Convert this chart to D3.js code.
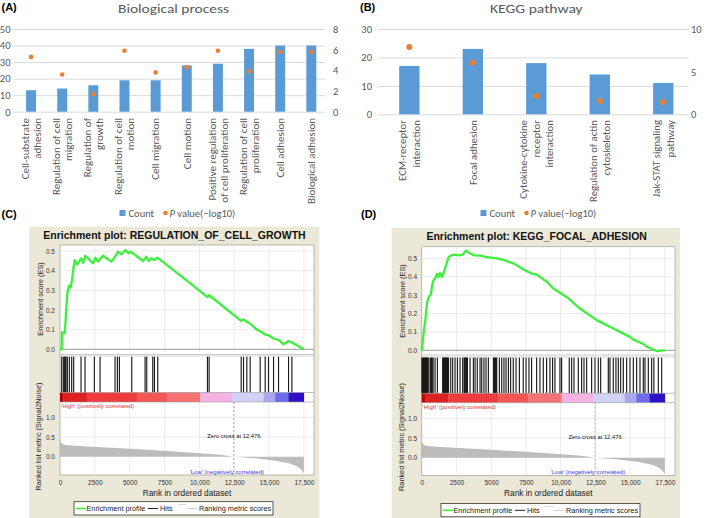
<!DOCTYPE html>
<html><head><meta charset="utf-8">
<script src="https://cdn.jsdelivr.net/npm/d3@7"></script>
<style>body{margin:0;background:#fff}svg{display:block}</style>
</head><body>
<svg id="chart" width="709" height="518"></svg>
<script>
// ---------------- DATA ----------------
// Panel A: Biological process
const bpCategories = [["Cell-substrate","adhesion"],["Regulation of cell","migration"],["Regulation of","growth"],["Regulation of cell","motion"],["Cell migration"],["Cell motion"],["Positive regulation","of cell proliferation"],["Regulation of cell","proliferation"],["Cell adhesion"],["Biological adhesion"]];
const bpCounts = [13, 14, 16, 19, 19, 28, 29, 38, 40, 40];
const bpPvalues = [5.3, 3.6, 1.7, 5.9, 3.8, 4.3, 5.9, 3.9, 5.8, 5.8];
const bpCountTicks = [0, 10, 20, 30, 40, 50];
const bpPTicks = [0, 2, 4, 6, 8];

// Panel B: KEGG pathway
const keggCategories = [["ECM-receptor","interaction"],["Focal adhesion"],["Cytokine-cytokine","receptor","interaction"],["Regulation of actin","cytoskeleton"],["Jak-STAT signaling","pathway"]];
const keggCounts = [17, 23, 18, 14, 11];
const keggPvalues = [7.9, 6.05, 2.15, 1.55, 1.45];
const keggCountTicks = [0, 10, 20, 30];
const keggPTicks = [0, 5, 10];

// GSEA shared
const rankTicks = [0, 2500, 5000, 7500, 10000, 12500, 15000, 17500];
const esTicks = [0.0, 0.1, 0.2, 0.3, 0.4, 0.5];
const metricTicks = [0.0, 0.5, 1.0];
const zeroCross = 12476;
const metricRanks = [0, 60, 240, 600, 1400, 3000, 5000, 7500, 10000, 11500, 12476, 14000, 15500, 16500, 17000, 17300, 17500];
const metricValues = [0.42, 0.36, 0.31, 0.29, 0.27, 0.24, 0.2, 0.15, 0.09, 0.05, 0.0, -0.04, -0.1, -0.17, -0.24, -0.32, -0.42];
const colorBandEdges = [0, 240, 1916, 5508, 7663, 10057, 12332, 14607, 15445, 16403, 17500];
const colorBandColors = ["#b80000", "#dc2222", "#ee3c3c", "#f45656", "#f77272", "#f5b2e2", "#d2d2f6", "#a8a8f0", "#6e6cea", "#2c12c4"];

// Panel C: REGULATION_OF_CELL_GROWTH
const esRanksC = [0,120,144,335,383,455,527,647,766,862,982,1054,1245,1533,1653,1820,2371,2538,2730,3089,3688,3879,4167,4406,4693,4933,5077,5963,6202,6370,6561,6753,6992,9195,10584,10704,13003,13170,13410,13649,14129,14368,14727,14966,15326,15685,16044,16403,16643,17500];
const esValuesC = [0,0,0.086,0.081,0.124,0.208,0.285,0.324,0.314,0.353,0.42,0.454,0.432,0.462,0.44,0.476,0.437,0.466,0.446,0.476,0.446,0.463,0.497,0.483,0.505,0.488,0.497,0.449,0.471,0.449,0.463,0.454,0.466,0.344,0.265,0.275,0.145,0.152,0.14,0.13,0.1,0.092,0.075,0.072,0.055,0.048,0.025,0.042,0.035,0.0];
const hitsC = [120,240,335,383,431,527,670,838,982,1509,1796,2466,2874,3951,4119,4262,5148,6106,6226,6657,6777,7016,10584,10704,13003,13170,13410,13649,14368,14727,14966,15326,15685,16403,16643];

// Panel D: KEGG_FOCAL_ADHESION
const esRanksD = [0,48,167,262,381,524,643,810,976,1095,1214,1310,1452,1595,1762,1929,2119,2357,2714,2952,3190,3429,3786,4262,4619,4857,5452,6048,6643,7357,7833,8310,9024,9472,10432,11391,12590,13789,14988,15228,15947,16191,16906,17386,17500];
const esValuesD = [0,0.033,0.11,0.165,0.256,0.293,0.30,0.375,0.393,0.415,0.40,0.42,0.398,0.425,0.465,0.505,0.516,0.52,0.516,0.52,0.542,0.529,0.516,0.515,0.507,0.505,0.50,0.487,0.471,0.438,0.42,0.41,0.371,0.336,0.29,0.227,0.164,0.118,0.073,0.058,0.035,0.02,-0.004,0.0,0.0];
const hitsD = [20,50,80,110,140,170,200,230,260,290,320,350,380,410,440,470,600,650,700,760,820,960,1130,1510,1545,1580,1615,1650,1685,1720,1755,1790,1825,1860,1895,1930,2090,2230,2400,2570,2760,2950,3050,3090,3130,3170,3210,3250,3290,3480,3720,3840,4000,4200,4320,4480,4630,4800,5160,5200,5240,5280,5320,5360,5400,5590,5760,5920,6070,6240,6400,6590,6790,7030,7310,7510,7720,7910,8270,8510,8750,8990,9230,9420,9590,9950,10070,10620,10790,10960,11270,11510,11680,11870,12230,12470,12710,12880,13430,13550,13790,13980,14150,14320,14510,14750,14990,15230,15470,15710,15950,16070,16310,16550,16710,17030,17270];

// ---------------- DRAWING ----------------
const svg = d3.select('#chart');
const FA = "Carlito, Lato, 'Open Sans', sans-serif";
const FG = "'Liberation Sans', Arial, sans-serif";
const GRAY = '#595959';

function panelLetter(t, x, y) {
  svg.append('text').attr('x', x).attr('y', y).attr('font-family', FG).attr('font-weight', 'bold')
    .attr('font-size', 11).attr('fill', '#000').text(t);
}

function barPanel(o) {
  const g = svg.append('g').attr('font-family', FA);
  const x = d3.scaleBand().domain(d3.range(o.cats.length)).range([o.x0, o.x1]).paddingInner(0.68).paddingOuter(0.34);
  const y = d3.scaleLinear().domain([0, o.yMax]).range([o.yB, o.yT]);
  const y2 = d3.scaleLinear().domain([0, o.y2Max]).range([o.yB, o.yT]);

  g.append('text').attr('x', o.titleX).attr('y', 13).attr('text-anchor', 'middle')
    .attr('font-size', 13).attr('textLength', o.titleW).attr('lengthAdjust', 'spacingAndGlyphs')
    .attr('fill', GRAY).text(o.title);

  const ax = g.append('g').attr('transform', `translate(${o.gx0},0)`)
    .call(d3.axisLeft(y).tickValues(o.yTicks).tickSize(-(o.gx1 - o.gx0)).tickPadding(o.lpad));
  ax.select('.domain').remove();
  ax.selectAll('line').attr('stroke', '#d9d9d9').attr('stroke-width', 1);
  ax.selectAll('text').attr('fill', GRAY).attr('font-size', 10.5).attr('font-family', FA);

  const ar = g.append('g').attr('transform', `translate(${o.gx1},0)`)
    .call(d3.axisRight(y2).tickValues(o.y2Ticks).tickSize(0).tickPadding(o.rpad));
  ar.select('.domain').remove();
  ar.selectAll('text').attr('fill', GRAY).attr('font-size', 10.5).attr('font-family', FA);

  g.selectAll('rect.bar').data(o.counts).join('rect').attr('class', 'bar')
    .attr('x', (d, i) => x(i)).attr('width', x.bandwidth())
    .attr('y', d => y(d)).attr('height', d => y(0) - y(d)).attr('fill', '#5b9bd5');

  g.selectAll('circle.pt').data(o.pvals).join('circle').attr('class', 'pt')
    .attr('cx', (d, i) => x(i) + x.bandwidth() / 2).attr('cy', d => y2(d))
    .attr('r', o.r).attr('fill', '#ed7d31');

  const lab = g.selectAll('g.lab').data(o.cats).join('g').attr('class', 'lab')
    .attr('transform', (d, i) => `translate(${x(i) + x.bandwidth() / 2},${o.labTop}) rotate(-90)`);
  lab.each(function (lines) {
    const n = lines.length;
    d3.select(this).selectAll('text').data(lines).join('text')
      .attr('x', 0).attr('y', (d, j) => (j - (n - 1) / 2) * o.lh)
      .attr('dy', '0.35em').attr('text-anchor', 'end')
      .attr('font-size', o.labFs).attr('fill', GRAY).text(d => d);
  });

  // legend
  const lg = g.append('g');
  lg.append('rect').attr('x', o.legX).attr('y', 210).attr('width', 6).attr('height', 6).attr('fill', '#5b9bd5');
  lg.append('text').attr('x', o.legX + 9).attr('y', 216.5).attr('font-size', 10.5).attr('fill', GRAY).text('Count');
  lg.append('circle').attr('cx', o.legX + 46).attr('cy', 213).attr('r', 2.3).attr('fill', '#ed7d31');
  const t = lg.append('text').attr('x', o.legX + 50).attr('y', 216.5).attr('font-size', 10.5).attr('fill', GRAY);
  t.append('tspan').attr('font-style', 'italic').text('P');
  t.append('tspan').text(' value(\u2212log10)');
}

function gseaPanel(o) {
  const g = svg.append('g').attr('font-family', FG);
  g.append('rect').attr('x', o.bx0).attr('y', o.by0).attr('width', o.bx1 - o.bx0).attr('height', 518 - o.by0).attr('fill', '#ebe8d7');
  g.append('text').attr('x', o.titleX).attr('y', o.titleY).attr('text-anchor', 'middle')
    .attr('font-weight', 'bold').attr('font-size', 10.5).attr('fill', '#111').text(o.title);

  const x = d3.scaleLinear().domain([0, 18230]).range([o.px0, o.px1]);
  const ey = d3.scaleLinear().domain([0, 0.5]).range([o.es0, o.es5]);
  const ry = d3.scaleLinear().domain([0, 1]).range([o.rk0, o.rk1]);

  g.append('rect').attr('x', o.px0).attr('y', o.esTop).attr('width', o.px1 - o.px0)
    .attr('height', o.rankBottom - o.esTop).attr('fill', '#fff').attr('stroke', '#a8a8a8').attr('stroke-width', 0.8);

  const gridRanks = rankTicks.filter(d => d > 0);
  const grid = g.append('g').attr('stroke', '#e2e2e2').attr('stroke-width', 0.7);
  grid.selectAll('line.v1').data(gridRanks).join('line').attr('class', 'v1')
    .attr('x1', d => x(d)).attr('x2', d => x(d)).attr('y1', o.esTop).attr('y2', o.esBottom);
  grid.selectAll('line.h1').data(esTicks.filter(d => d > 0)).join('line').attr('class', 'h1')
    .attr('x1', o.px0).attr('x2', o.px1).attr('y1', d => ey(d)).attr('y2', d => ey(d));
  grid.selectAll('line.v2').data(gridRanks).join('line').attr('class', 'v2')
    .attr('x1', d => x(d)).attr('x2', d => x(d)).attr('y1', o.barBottom).attr('y2', o.rankBottom);
  grid.selectAll('line.h2').data([0.5, 1.0]).join('line').attr('class', 'h2')
    .attr('x1', o.px0).attr('x2', o.px1).attr('y1', d => ry(d)).attr('y2', d => ry(d));

  // dividers
  g.append('line').attr('x1', o.px0).attr('x2', o.px1).attr('y1', ey(0)).attr('y2', ey(0)).attr('stroke', '#9a9a9a').attr('stroke-width', 1);
  g.append('line').attr('x1', o.px0).attr('x2', o.px1).attr('y1', o.esBottom + 2).attr('y2', o.esBottom + 2).attr('stroke', '#bbb').attr('stroke-width', 0.8);

  // ranked metric area
  const metric = metricRanks.map((r, i) => [r, metricValues[i]]);
  g.append('path').datum(metric).attr('fill', '#bcbcbc')
    .attr('d', d3.area().x(d => x(d[0])).y0(ry(0)).y1(d => ry(d[1])));

  // zero cross
  g.append('line').attr('x1', x(zeroCross)).attr('x2', x(zeroCross)).attr('y1', o.barBottom).attr('y2', o.rankBottom)
    .attr('stroke', '#999').attr('stroke-width', 0.8).attr('stroke-dasharray', '2,2');

  // hits
  g.selectAll('line.hit').data(o.hits).join('line').attr('class', 'hit')
    .attr('x1', d => x(d)).attr('x2', d => x(d)).attr('y1', o.hitsTop).attr('y2', o.barTop)
    .attr('stroke', '#1a1a1a').attr('stroke-width', 1.15);
  g.append('line').attr('x1', o.px0).attr('x2', o.px1).attr('y1', o.hitsTop - 0.5).attr('y2', o.hitsTop - 0.5).attr('stroke', '#bbb').attr('stroke-width', 0.6);

  // color bar
  g.selectAll('rect.cb').data(colorBandColors).join('rect').attr('class', 'cb')
    .attr('x', (d, i) => x(colorBandEdges[i])).attr('width', (d, i) => x(colorBandEdges[i + 1]) - x(colorBandEdges[i]) + 0.3)
    .attr('y', o.barTop).attr('height', o.barBottom - o.barTop).attr('fill', d => d);
  g.append('line').attr('x1', o.px0).attr('x2', o.px1).attr('y1', o.barTop).attr('y2', o.barTop).attr('stroke', '#999').attr('stroke-width', 0.6);
  g.append('line').attr('x1', o.px0).attr('x2', o.px1).attr('y1', o.barBottom).attr('y2', o.barBottom).attr('stroke', '#999').attr('stroke-width', 0.6);

  // ES curve
  const es = o.esR.map((r, i) => [r, o.esV[i]]);
  g.append('path').datum(es).attr('fill', 'none').attr('stroke', '#3cf03c').attr('stroke-width', 2.3)
    .attr('stroke-linejoin', 'round').attr('d', d3.line().x(d => x(d[0])).y(d => ey(d[1])));

  // axis labels
  const ea = g.append('g').attr('transform', `translate(${o.px0},0)`)
    .call(d3.axisLeft(ey).tickValues(esTicks).tickFormat(d3.format('.1f')).tickSize(0).tickPadding(o.tpad));
  ea.select('.domain').remove();
  ea.selectAll('text').attr('font-size', 6.5).attr('font-family', FG).attr('fill', '#333');
  const ra = g.append('g').attr('transform', `translate(${o.px0},0)`)
    .call(d3.axisLeft(ry).tickValues(metricTicks).tickFormat(d3.format('.1f')).tickSize(0).tickPadding(o.tpad));
  ra.select('.domain').remove();
  ra.selectAll('text').attr('font-size', 6.5).attr('font-family', FG).attr('fill', '#333');
  const xa = g.append('g').attr('transform', `translate(0,${o.rankBottom})`)
    .call(d3.axisBottom(x).tickValues(rankTicks).tickFormat(d => d >= 10000 ? d3.format(',')(d) : String(d)).tickSize(0).tickPadding(5.2));
  xa.select('.domain').remove();
  xa.selectAll('text').attr('font-size', 6.5).attr('font-family', FG).attr('fill', '#333');

  g.append('text').attr('x', (o.px0 + o.px1) / 2).attr('y', o.rankBottom + 20.5).attr('text-anchor', 'middle')
    .attr('font-size', 8.3).attr('fill', '#222').text('Rank in ordered dataset');
  g.append('text').attr('transform', `translate(${o.esLabX},${o.esLabY}) rotate(-90)`).attr('text-anchor', 'middle')
    .attr('font-size', 7.3).attr('fill', '#222').text('Enrichment score (ES)');
  g.append('text').attr('transform', `translate(${o.rkLabX},${o.rkLabY}) rotate(-90)`).attr('text-anchor', 'middle')
    .attr('font-size', 7.3).attr('fill', '#222').text('Ranked list metric (Signal2Noise)');

  g.append('text').attr('x', o.px0 + 1).attr('y', o.barBottom + 6.2).attr('font-size', 6).attr('fill', '#e0383c')
    .text("'High' (positively correlated)");
  g.append('text').attr('x', x(zeroCross) - 7).attr('y', o.rankBottom - 1.5).attr('text-anchor', 'middle')
    .attr('font-size', 6).attr('fill', '#3a3ae0').text("'Low' (negatively correlated)");
  g.append('text').attr('x', x(zeroCross)).attr('y', ry(0.47)).attr('text-anchor', 'middle')
    .attr('font-size', 5.8).attr('fill', '#111').text('Zero cross at 12,476');

  // legend
  const L = o.legX, T = o.legY;
  const lg = g.append('g');
  lg.append('rect').attr('x', L).attr('y', T).attr('width', o.legW).attr('height', 13.3).attr('fill', '#fff').attr('stroke', '#333').attr('stroke-width', 0.8);
  const cy = T + 6.8;
  lg.append('line').attr('x1', L + 2).attr('x2', L + 12).attr('y1', cy).attr('y2', cy).attr('stroke', '#3cf03c').attr('stroke-width', 1.6);
  lg.append('text').attr('x', L + 12.5).attr('y', cy + 2.6).attr('font-size', 7.3).attr('fill', '#222').text('Enrichment profile');
  lg.append('line').attr('x1', L + 74).attr('x2', L + 84).attr('y1', cy).attr('y2', cy).attr('stroke', '#222').attr('stroke-width', 1);
  lg.append('text').attr('x', L + 86).attr('y', cy + 2.6).attr('font-size', 7.3).attr('fill', '#222').text('Hits');
  lg.append('line').attr('x1', L + 104).attr('x2', L + 112).attr('y1', cy - 4).attr('y2', cy - 4).attr('stroke', '#d8d8d8').attr('stroke-width', 1);
  lg.append('line').attr('x1', L + 113).attr('x2', L + 123).attr('y1', cy).attr('y2', cy).attr('stroke', '#cfcfcf').attr('stroke-width', 1);
  lg.append('text').attr('x', L + 125).attr('y', cy + 2.6).attr('font-size', 7.3).attr('fill', '#222').text('Ranking metric scores');
}

panelLetter('(A)', 1.5, 11);
panelLetter('(B)', 360, 11);
panelLetter('(C)', 1.5, 218);
panelLetter('(D)', 361, 218);

barPanel({cats: bpCategories, counts: bpCounts, pvals: bpPvalues, yTicks: bpCountTicks, y2Ticks: bpPTicks,
  yMax: 50, y2Max: 8, x0: 15.5, x1: 326.9, gx0: 13.5, gx1: 325, yB: 111.7, yT: 29, lpad: 3, rpad: 8,
  r: 2.3, labTop: 118, lh: 11.7, labFs: 11, title: 'Biological process', titleX: 173.5, titleW: 111, legX: 119.5});

barPanel({cats: keggCategories, counts: keggCounts, pvals: keggPvalues, yTicks: keggCountTicks, y2Ticks: keggPTicks,
  yMax: 30, y2Max: 10, x0: 377.6, x1: 695, gx0: 378, gx1: 689, yB: 114.3, yT: 29, lpad: 6, rpad: 2,
  r: 3, labTop: 120, lh: 13.3, labFs: 10.8, title: 'KEGG pathway', titleX: 536.3, titleW: 92.7, legX: 480.5});

gseaPanel({bx0: 29.3, bx1: 319.3, by0: 226.7, title: 'Enrichment plot: REGULATION_OF_CELL_GROWTH', titleX: 174.5, titleY: 239,
  px0: 60, px1: 314, esTop: 245, esBottom: 352.5, es0: 349.3, es5: 251, hitsTop: 356.5, barTop: 392.5, barBottom: 402,
  rankBottom: 475, rk0: 456.7, rk1: 417.3, tpad: 5, esR: esRanksC, esV: esValuesC, hits: hitsC,
  esLabX: 42.5, esLabY: 299, rkLabX: 41, rkLabY: 436.5, legX: 74, legY: 501.7, legW: 199});

gseaPanel({bx0: 391.7, bx1: 680, by0: 228, title: 'Enrichment plot: KEGG_FOCAL_ADHESION', titleX: 536.7, titleY: 240,
  px0: 421.7, px1: 675, esTop: 246.7, esBottom: 353, es0: 350.3, es5: 258.3, hitsTop: 357.5, barTop: 393.3, barBottom: 402.7,
  rankBottom: 475.5, rk0: 457.7, rk1: 418.3, tpad: 4.7, esR: esRanksD, esV: esValuesD, hits: hitsD,
  esLabX: 405, esLabY: 301, rkLabX: 404, rkLabY: 437, legX: 441, legY: 503.5, legW: 199});
</script>
</body></html>
